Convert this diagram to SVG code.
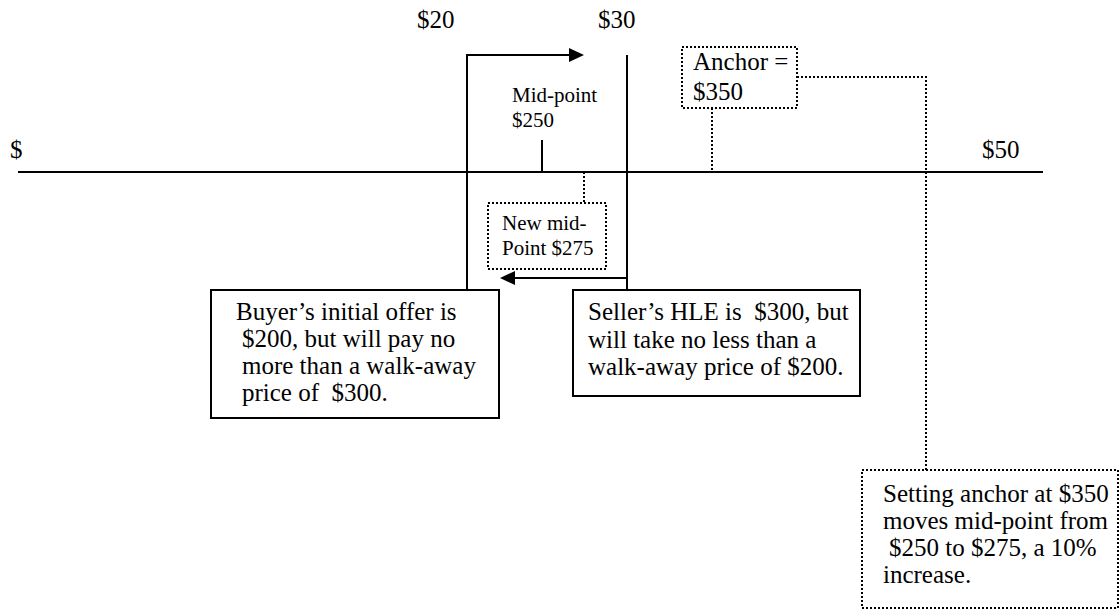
<svg xmlns="http://www.w3.org/2000/svg" width="1119" height="609" viewBox="0 0 1119 609">
  <style>
    text { font-family: "Liberation Serif", "Times New Roman", serif; fill: #000; }
    .big { font-size: 25px; }
    .small { font-size: 21px; }
    .solid { fill: none; stroke: #000; stroke-width: 2; }
    .box { fill: #fff; stroke: #000; stroke-width: 2; }
    .dotbox { fill: #fff; stroke: #000; stroke-width: 2; stroke-dasharray: 2 2; }
    .dot { fill: none; stroke: #000; stroke-width: 2; stroke-dasharray: 2 2; }
  </style>
  <defs>
    <marker id="arrow" markerUnits="userSpaceOnUse" markerWidth="16" markerHeight="16" viewBox="0 -8 16 16" refX="0" refY="0" orient="auto">
      <path d="M0,-7 L15,0 L0,7 Z" fill="#000"/>
    </marker>
  </defs>
  <rect width="1119" height="609" fill="#fff"/>

  <g id="axis">
    <line class="solid" x1="18" y1="172" x2="1043" y2="172"/>
    <text class="big" x="10" y="158">$</text>
    <text class="big" x="982" y="158">$50</text>
    <text class="big" x="417" y="28">$20</text>
    <text class="big" x="598" y="28">$30</text>
  </g>

  <g id="connectors">
    <path class="solid" d="M467,290 V55 H569" marker-end="url(#arrow)"/>
    <path class="solid" d="M627,55 V290"/>
    <path class="solid" d="M627,278 H515" marker-end="url(#arrow)"/>
    <line class="solid" x1="542" y1="140" x2="542" y2="172"/>
    <line class="dot" x1="584" y1="172" x2="584" y2="203"/>
    <line class="dot" x1="712" y1="108" x2="712" y2="172"/>
    <path class="dot" d="M797,77 H926 V470"/>
  </g>

  <g id="midpoint-label">
    <text class="small" x="512" y="102">Mid-point</text>
    <text class="small" x="512" y="127">$250</text>
  </g>

  <g id="new-midpoint">
    <rect class="dotbox" x="488" y="203" width="118" height="66"/>
    <text class="small" x="502" y="230">New mid-</text>
    <text class="small" x="502" y="255">Point $275</text>
  </g>

  <g id="anchor">
    <rect class="dotbox" x="682" y="47" width="115" height="61"/>
    <text class="big" x="693" y="70">Anchor =</text>
    <text class="big" x="693" y="100">$350</text>
  </g>

  <g id="buyer">
    <rect class="box" x="211" y="290" width="288" height="128"/>
    <text class="big" x="236" y="320">Buyer’s initial offer is</text>
    <text class="big" x="242" y="347">$200, but will pay no</text>
    <text class="big" x="242" y="374">more than a walk-away</text>
    <text class="big" x="242" y="401">price of&#160; $300.</text>
  </g>

  <g id="seller">
    <rect class="box" x="573" y="290" width="287" height="106"/>
    <text class="big" x="588" y="320">Seller’s HLE is&#160; $300, but</text>
    <text class="big" x="588" y="348">will take no less than a</text>
    <text class="big" x="588" y="375">walk-away price of $200.</text>
  </g>

  <g id="callout">
    <rect class="dotbox" x="862" y="470" width="256" height="138"/>
    <text class="big" x="883" y="502">Setting anchor at $350</text>
    <text class="big" x="883" y="529">moves mid-point from</text>
    <text class="big" x="889" y="556">$250 to $275, a 10%</text>
    <text class="big" x="883" y="583">increase.</text>
  </g>
</svg>
